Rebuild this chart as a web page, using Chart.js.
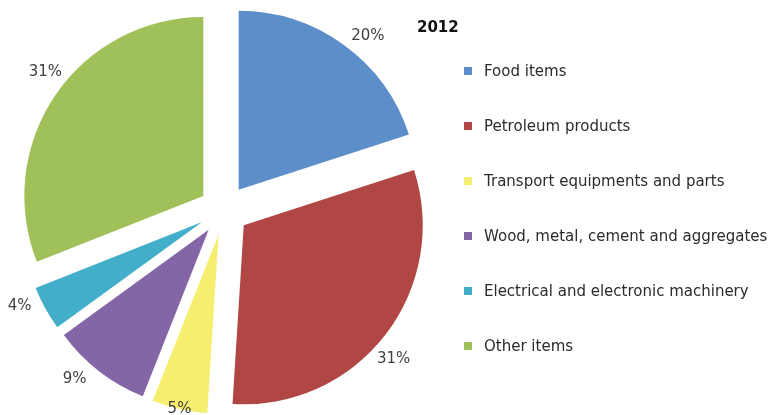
<!DOCTYPE html>
<html>
<head>
<meta charset="utf-8">
<script src="https://cdn.jsdelivr.net/npm/chart.js@4.4.1/dist/chart.umd.min.js"></script>
<style>
    body { margin: 0; background: #fff; }
    #wrap { position: relative; width: 774px; height: 415px; overflow: hidden; }
    #title {
        position: absolute; left: 417px; top: 20px;
        font: bold 15px "DejaVu Sans"; line-height: 15px; color: #111;
    }
    .legend-item {
        position: absolute; left: 464px; height: 15px;
        display: flex; align-items: center;
        font: 15px "DejaVu Sans"; line-height: 15px; color: #2b2b2b; white-space: nowrap;
    }
    .legend-item .box { width: 8px; height: 8px; margin-right: 12px; }
</style>
</head>
<body>
<div id="wrap">
    <canvas id="exportsPie"></canvas>
    <div id="title">2012</div>
    <div id="legend"></div>
</div>
<script>
const categories = [
    'Food items',
    'Petroleum products',
    'Transport equipments and parts',
    'Wood, metal, cement and aggregates',
    'Electrical and electronic machinery',
    'Other items'
];
const shares = [20, 31, 5, 9, 4, 31];
const sliceColors = ['#5c8ec9', '#b04744', '#f6ee6e', '#8466a7', '#42aec9', '#a0c15a'];

// how far every slice is pulled away from the middle, in px
const EXPLODE = 25;
// percentage labels sit a little beyond the rim
const LABEL_GAP = 22;
const LABEL_TURN = 4 * Math.PI / 180;

// move each arc out along its own bisector, keeping its radius as is
const explodeSlices = {
    id: 'explodeSlices',
    afterDatasetUpdate: function(chart, args) {
        args.meta.data.forEach(function(arc) {
            var mid = (arc.startAngle + arc.endAngle) / 2;
            arc.x += Math.cos(mid) * EXPLODE;
            arc.y += Math.sin(mid) * EXPLODE;
        });
    }
};

const sliceLabels = {
    id: 'sliceLabels',
    afterDatasetsDraw: function(chart) {
        var ctx = chart.ctx;
        var maxY = chart.height - 6;
        ctx.save();
        ctx.font = '15px "DejaVu Sans"';
        ctx.fillStyle = '#404040';
        ctx.textAlign = 'center';
        ctx.textBaseline = 'middle';
        chart.getDatasetMeta(0).data.forEach(function(arc, i) {
            var mid = (arc.startAngle + arc.endAngle) / 2;
            var a = mid + LABEL_TURN;
            var r = arc.outerRadius + LABEL_GAP;
            var x = arc.x + Math.cos(a) * r;
            var y = arc.y + Math.sin(a) * r;
            if (y > maxY) {
                // keep it inside the canvas, sliding along the bisector
                var t = (maxY - arc.y) / Math.sin(mid);
                x = arc.x + Math.cos(mid) * t;
                y = maxY;
            }
            ctx.fillText(shares[i] + '%', x, y);
        });
        ctx.restore();
    }
};

var ctx = document.getElementById('exportsPie').getContext('2d');
var exportsChart = new Chart(ctx, {
    type: 'pie',
    data: {
        labels: categories,
        datasets: [{
            data: shares,
            backgroundColor: sliceColors,
            borderWidth: 0,
            radius: 179
        }]
    },
    options: {
        responsive: true,
        maintainAspectRatio: false,
        animation: false,
        events: [],
        layout: {
            padding: { left: 0, right: 326, top: 5, bottom: 0 }
        },
        plugins: {
            legend: { display: false },
            tooltip: { enabled: false }
        }
    },
    plugins: [explodeSlices, sliceLabels]
});

// legend on the right, one row per category
var legend = document.getElementById('legend');
categories.forEach(function(name, i) {
    var item = document.createElement('div');
    item.className = 'legend-item';
    item.style.top = (63.6 + 55 * i) + 'px';
    var box = document.createElement('span');
    box.className = 'box';
    box.style.background = sliceColors[i];
    item.appendChild(box);
    item.appendChild(document.createTextNode(name));
    legend.appendChild(item);
});
</script>
</body>
</html>
